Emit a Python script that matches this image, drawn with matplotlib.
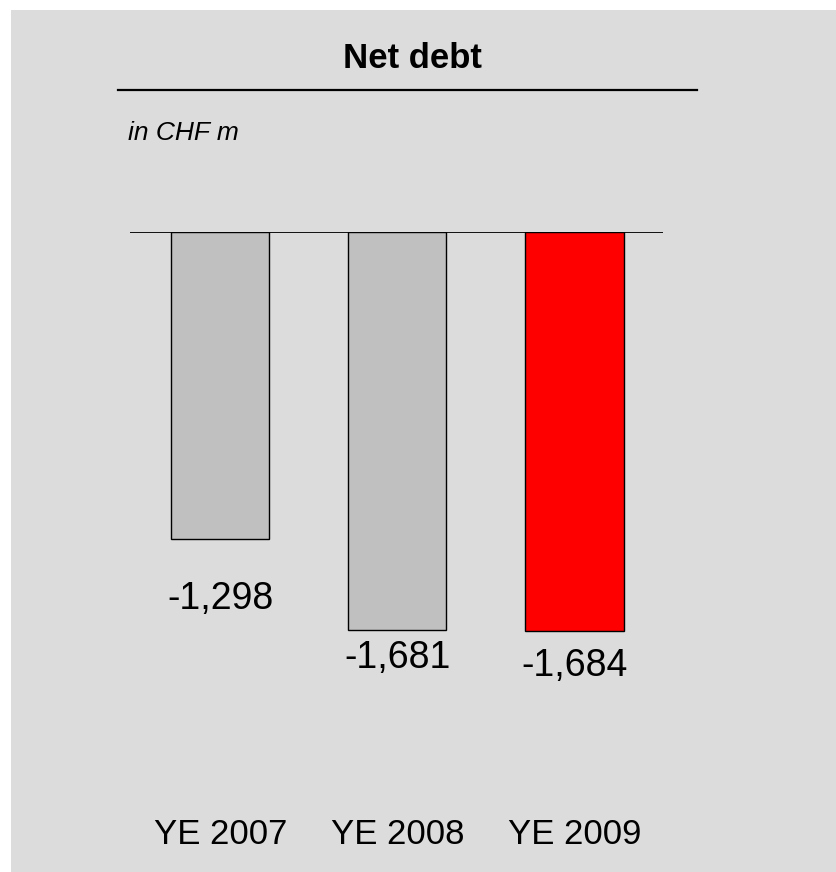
import matplotlib.pyplot as plt
from matplotlib.lines import Line2D
from matplotlib.patches import Rectangle

# Net debt at year end, CHF m
years = ["YE 2007", "YE 2008", "YE 2009"]
net_debt = [-1298, -1681, -1684]
bar_colors = ["#c0c0c0", "#c0c0c0", "#ff0000"]

# vertical gap (pixels) between each bar end and its value label
label_gap = [60, 28, 35]

W, H = 837, 872
fig = plt.figure(figsize=(W / 100, H / 100), dpi=100)
fig.patch.set_facecolor("white")

# grey panel with a thin white margin on the top and left
fig.patches.append(Rectangle((11 / W, 0), 1 - 11 / W, 1 - 10 / H,
                             transform=fig.transFigure, facecolor="#dcdcdc",
                             edgecolor="none", zorder=-5))

# title and its rule
fig.text(412 / W, 1 - 58 / H, "Net debt", ha="center", va="center",
         fontsize=25, fontweight="bold", family="Liberation Sans")
fig.lines.append(Line2D([118 / W, 697 / W], [1 - 90 / H, 1 - 90 / H],
                        transform=fig.transFigure, color="black", lw=1.6))
fig.text(128 / W, 1 - 140 / H, "in CHF m", ha="left", va="baseline",
         fontsize=19, fontstyle="italic", family="Liberation Sans")

# bar area: top edge is the zero line
top, bottom = 232, 705.6
ax = fig.add_axes([130 / W, 1 - bottom / H, 533 / W, (bottom - top) / H])
ax.set_facecolor("none")

x = range(len(years))
ax.bar(x, net_debt, width=0.554, color=bar_colors, edgecolor="black",
       linewidth=1.0, zorder=2)
ax.axhline(0, color="black", lw=1.3, zorder=3)

for i, v in enumerate(net_debt):
    ax.annotate(f"{v:,}", (i, v), xytext=(0, -label_gap[i] * 0.72),
                textcoords="offset points", ha="center", va="center",
                fontsize=27, family="Liberation Sans")

ax.set_xlim(-0.51, 2.5)
ax.set_ylim(-2000, 0)
ax.set_xticks(list(x))
ax.set_xticklabels(years, fontsize=25, family="Liberation Sans")
ax.tick_params(axis="x", length=0, pad=81)
ax.set_yticks([])
for s in ax.spines.values():
    s.set_visible(False)

fig.savefig("out.png", dpi=100)
